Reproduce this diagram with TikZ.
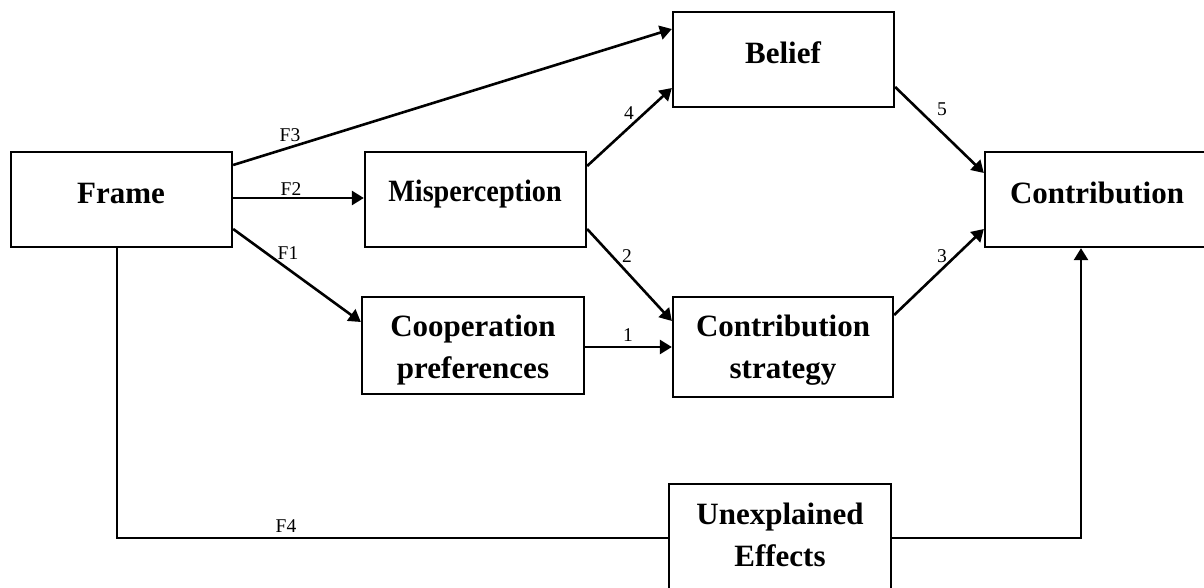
\documentclass[tikz,border=0pt]{standalone}
\usepackage{fontspec}
\setmainfont{Liberation Serif}
\usetikzlibrary{arrows.meta}
\begin{document}
\begin{tikzpicture}[x=1pt,y=-1pt,
  box/.style={draw,line width=2.3pt,inner sep=0pt},
  btxt/.style={anchor=base,inner sep=0pt,font=\bfseries\fontsize{31}{36}\selectfont},
  conn/.style={line width=2.6pt,-{Triangle[length=12pt,width=14pt]}},
  plainline/.style={line width=2.6pt},
  lab/.style={font=\fontsize{19.5}{22}\selectfont,inner sep=0pt}]
\useasboundingbox (0,0) rectangle (1204,588);
% boxes
\node[box,minimum width=221pt,minimum height=95pt] (frame) at (121.5,199.5) {};
\node[box,minimum width=221pt,minimum height=95pt] (misp) at (475.5,199.5) {};
\node[box,minimum width=221pt,minimum height=95pt] (belief) at (783.5,59.5) {};
\node[box,minimum width=224pt,minimum height=95pt] (contrib) at (1097,199.5) {};
\node[box,minimum width=222pt,minimum height=97pt] (coop) at (473,345.5) {};
\node[box,minimum width=220pt,minimum height=100pt] (cs) at (783,347) {};
\node[box,minimum width=222pt,minimum height=106pt] (unexp) at (780,537) {};
% box texts
\node[btxt] (frameT) at (121,204) {Frame};
\node[btxt] (mispT) at (475,202) {\scalebox{0.91}[1]{Misperception}};
\node[btxt] (beliefT) at (783,63.5) {Belief};
\node[btxt] (contribT) at (1097,204) {Contribution};
\node[btxt] (coopT1) at (473,336.7) {Cooperation};
\node[btxt] (coopT2) at (473,378.3) {preferences};
\node[btxt] (csT1) at (783,336.7) {Contribution};
\node[btxt] (csT2) at (783,378) {strategy};
\node[btxt] (unexpT1) at (780,524) {Unexplained};
\node[btxt] (unexpT2) at (780,566) {Effects};
% connectors
\draw[conn] ([yshift=34.5pt]frame.east) -- ([yshift=30.5pt]belief.west);
\draw[conn] ([yshift=1.5pt]frame.east) -- ([yshift=1.5pt]misp.west);
\draw[conn] ([yshift=-29.5pt]frame.east) -- ([yshift=23.5pt]coop.west);
\draw[conn] ([yshift=33.5pt]misp.east) -- ([yshift=-28.5pt]belief.west);
\draw[conn] ([yshift=-29.5pt]misp.east) -- ([yshift=26pt]cs.west);
\draw[conn] ([yshift=-1.5pt]coop.east) -- (cs.west);
\draw[conn] ([yshift=-27.5pt]belief.east) -- ([yshift=26.5pt]contrib.west);
\draw[conn] ([yshift=32pt]cs.east) -- ([yshift=-29.5pt]contrib.west);
\coordinate (f4a) at (117,538);
\coordinate (f4b) at (1081,538);
\draw[plainline] (frame.south -| f4a) -- (f4a) -- (unexp.west |- f4a);
\draw[conn] (unexp.east |- f4b) -- (f4b) -- (contrib.south -| f4b);
% labels
\node[lab] (lF3) at (290,135) {F3};
\node[lab] (lF2) at (291,189) {F2};
\node[lab] (lF1) at (288,253) {F1};
\node[lab] (l4) at (629,113) {4};
\node[lab] (l2) at (627,256) {2};
\node[lab] (l1) at (628,335) {1};
\node[lab] (l5) at (942,109) {5};
\node[lab] (l3) at (942,256) {3};
\node[lab] (lF4) at (286,526) {F4};
\end{tikzpicture}
\end{document}
